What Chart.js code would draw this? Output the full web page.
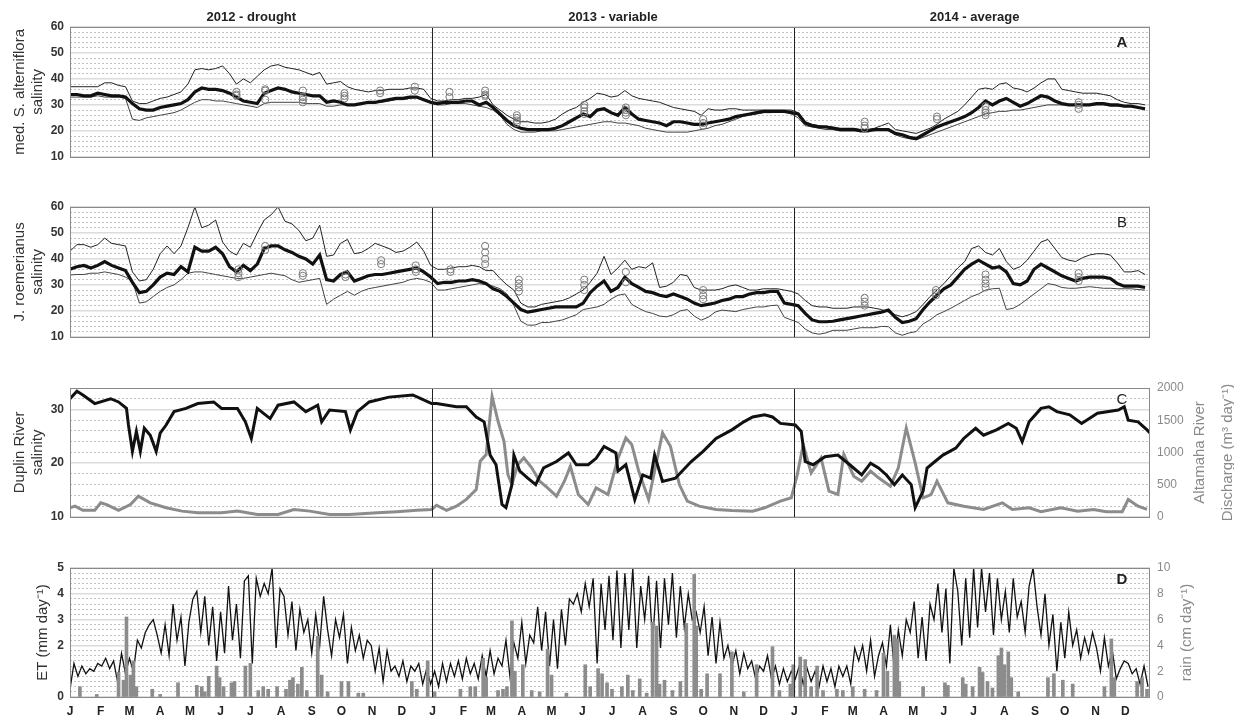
<!DOCTYPE html>
<html>
<head>
<meta charset="utf-8">
<title>Marsh porewater salinity, river discharge and ET, 2012-2014</title>
<script src="https://cdn.jsdelivr.net/npm/chart.js@4.4.1/dist/chart.umd.min.js"></script>
<style>
  body { margin: 0; background: #fff; }
  #wrap { position: relative; width: 1234px; height: 719px; }
  #wrap canvas { position: absolute; left: 0; }
</style>
</head>
<body>
<div id="wrap">
  <canvas id="panelA" width="1234" height="170" style="top:0px"></canvas>
  <canvas id="panelB" width="1234" height="170" style="top:180px"></canvas>
  <canvas id="panelC" width="1234" height="170" style="top:361px"></canvas>
  <canvas id="panelD" width="1234" height="178" style="top:541px"></canvas>
</div>
<script>
// x = day counted from 1 Jan 2012
const monthLetters = ['J','F','M','A','M','J','J','A','S','O','N','D',
                      'J','F','M','A','M','J','J','A','S','O','N','D',
                      'J','F','M','A','M','J','J','A','S','O','N','D'];
const monthStartDays = [0,31,60,91,121,152,182,213,244,274,305,335,
                        366,397,425,456,486,517,547,578,609,639,670,700,
                        731,762,790,821,851,882,912,943,974,1004,1035,1065];
const yearStartDays = [366, 731];
const yearTitles = ['2012 - drought', '2013 - variable', '2014 - average'];
const yearMidDays = [183, 548, 913];

// panels A and B: one value per week
const weekStep = 7;

// A - median S. alterniflora salinity and its envelope
const medA = [
  34,34,33.5,33.5,34.5,34,33.5,33.5,33,30.5, 28.5,28,28,29,29.5,30,30.5,32,35,36.5,
  36,36,35.5,34.5,33,31.5,31,30.5,34.5,35.5, 36.5,36,35,34.5,34,33.5,33.5,31,31.5,31,
  30,30,30.5,31,31,31.5,32,32.5,32.5,33, 33,32,31,
  30.5,31,31,31,31.5,31.5,30,31,29,26.5, 24,22,21,20.5,20.5,20.5,20.5,21,22,23.5,
  25,26.5,25.5,28,28.5,27,26,29,26.5,24.5, 24,23.5,23,22,23.5,23.5,23,22.5,22.5,23,
  23.5,24,24.5,25.5,26,26.5,27,27.5,27.5,27.5, 27.5,27,
  26.5,23,22,21.5,21.5,21,20.5,20.5,20.5,20, 20,20.5,20.5,20.5,19,18.5,17.5,17,18.5,20,
  21.5,22.5,23.5,24.5,25.5,27,29,31.5,30,31.5, 32.5,31,29.5,30.5,32,33.5,33,31.5,30.5,30,
  30,30,30,30.5,30.5,30,30,29.5,29.5,29, 28.5
];
const upA = [
  37,37,37,37,37,38.5,38.5,37.5,37,31.5, 30.5,30.5,31.5,32.5,33,34,35,38,43.5,44,
  43.5,44,45,42,38,40,38.5,41,43.5,45, 45.5,44.5,44,43.5,42.5,41.5,42.5,38,38.5,39,
  37,36,35.5,35,35.5,35.5,36,36,36,36.5, 36.5,36,32.5,
  31.5,31.5,32,32,32.5,32.5,33,34,30,28, 26,24.5,23.5,23.5,23,23,23.5,24.5,26.5,28,
  29,31,32.5,34.5,34,33,33.5,35.5,33.5,32.5, 32,31.5,31,30,29,28.5,28,27.5,26,28.5,
  28,28,28.5,28.5,28,28,28,28,28,28, 28,28,
  27,23.5,22.5,22,21.5,21.5,21,21,21,20.5, 20.5,21,22,23,20.5,20,19.5,19,20,21,
  22.5,24.5,26,27.5,30,33,36,36.5,36,38, 38.5,36.5,36,35,36.5,38.5,40,40,36,35.5,
  35,34.5,34.5,34.5,34,33.5,32,31,30.5,30.5, 30
];
const lowA = [
  33,33,33,33,33.5,33,33,33,32.5,24.5, 24,25,25.5,26,26.5,27,28,29.5,31,32,
  32,31.5,31.5,31,30.5,30,29.5,29,30.5,31, 31,31,31,31,30.5,30.5,30.5,29.5,29.5,30,
  30,30,30.5,30.5,31,31,31.5,32,32,32.5, 33,32,30.5,
  30,30,30.5,30.5,30.5,30,29.5,29,28,26, 22.5,20.5,19.5,19.5,19.5,20,20,20,20.5,21,
  21.5,22,22.5,23,23.5,23.5,23,23,22.5,22, 21,20.5,20,19.5,19.5,19.5,19.5,20,20.5,21,
  22,22.5,23.5,24.5,25.5,26,26.5,27,27,27.5, 27.5,26.5,
  25,22,21.5,21,20.5,20.5,20,20,20,20, 20,20,20.5,20,18.5,17.5,17,16.5,17.5,18.5,
  19.5,20.5,21.5,22.5,23.5,24.5,25.5,26.5,27,27.5, 27.5,28,28,28.5,29,29.5,30,30,30,30,
  30,30,30,30,30,29.5,29.5,29.5,29.5,29, 28
];
const obsDaysA = [168,168,168, 197,197,197, 235,235,235,235, 277,277,277, 313,313, 348,348,
  383,383, 419,419,419, 451,451,451,451, 519,519,519,519, 561,561,561,561, 639,639,639,
  802,802,802, 875,875, 924,924,924,924, 1018,1018,1018];
const obsSalA = [35,34,33.5, 36,35.5,32, 35.5,33,32,31, 34.5,33.5,32.5, 35.5,34.5, 37,35.5,
  35,33, 35.5,34,33.5, 26,25,24,23, 30,29,27.5,26.5, 29,28,27,26, 24.5,23,22,
  23.5,22,21, 25.5,24.5, 29.5,28,27,26, 31,30,28.5];

// B - J. roemerianus salinity
const medB = [
  36,37,37.5,36.5,37.5,39,37.5,36.5,35.5,31, 27,27.5,30,33,34.5,34,37,35,44.5,43,
  43,44.5,42,37,35,37.5,35.5,38,44,45, 45,43.5,42.5,41,40,38,41.5,32,31.5,34,
  35,31.5,32.5,33.5,34,34,34.5,35,35.5,36, 36.5,35,33,
  30.5,31,31,31.5,31.5,32,31.5,30.5,28.5,27.5, 25.5,23,20.5,19.5,20,20.5,21,21.5,21.5,21.5,
  21.5,23,27,29.5,31.5,27.5,29,33,30.5,29, 27.5,27,26,25.5,26.5,25.5,24.5,23,22,22.5,
  23,24,24.5,25.5,25.5,26.5,27,27,27.5,27.5, 23,22.5,
  22,19,16.5,15.8,15.8,16,16.5,17,17.5,18, 18.5,19,19.5,20.3,17.5,15.5,16,17,20.5,23.5,
  26,28.5,30,33,36,38,39.5,38,36.5,37, 35,30.5,30,31.5,36,38,36.5,35,33.5,32.5,
  31.5,32.5,33,33,33,32.5,30.5,29.5,29.5,29.5, 29
];
const upB = [
  43,45.5,45.5,44.5,45.5,48,46,45.5,45,35, 31.5,32,36,42,45,42,45,52,60,52,
  53,55,46.5,43,41.5,46,44.5,50,55,57, 60,54.5,53.5,51,47,48,53,41,41.5,46,
  47.5,42,42.5,44,46,45,44,42.5,43,44.5, 46.5,43,37.5,
  36,36,36.5,37,37,37.5,37,35.5,35.5,32.5, 30,28,23,21.5,21.5,22.5,23,23.5,24,25,
  26.5,28,31,34.5,41,34,36.5,39.5,36,37, 36.5,38.5,29,29.5,31,34,33.5,29,28,28,
  28,28.5,29.5,30,29,28,28,28.5,28.5,28.5, 28,27.5,
  26.5,24,22,21.5,21.5,21,21,21,21.5,21.5, 21.5,21,20.5,19.5,18.5,17.7,18.5,19.7,22.5,25.5,
  28,30.5,33.5,36.5,39,44,45,42.5,41.5,44, 39,36,37,39.5,43,46.5,47.5,44,40.5,39.5,
  39,40.5,41.5,42,42,41.5,38.5,35,35,35.5, 34
];
const lowB = [
  33.8,34,34,34.5,34.5,35,34.5,34,33,31.5, 23,23.5,25.5,27.5,29,30,32,34.5,35,35,
  34.5,34,33.5,33,32.5,32.5,33,33.5,34,34.5, 34,33.5,32,31,31.5,32,32.5,22.5,24.5,26,
  27.5,26,27.5,28.5,29,29.5,30,30.5,31,32, 32.5,32,31,
  28,28,28.5,29,29.5,30,30.5,30,29.5,28.5, 26.5,22,16,14.5,14.5,15.5,15.5,16,16.5,17.5,
  18.5,20.5,21,21.5,22.5,24.5,26,26.5,22.5,21, 19.7,19,18,17.7,18.5,20,20.5,18,16.4,17.5,
  19.5,20.3,20,19.7,20.5,21,21.5,21.5,22,22.2, 17.5,16.5,
  15.5,13,11.5,11,11.5,12.5,12.5,12.5,13,13.5, 13.5,13.5,14,13.9,11.5,10.6,11.5,12,15,16.5,
  18.5,19.7,21,22.5,24,25.5,26.5,28,28.5,28.7, 20.5,21,22.5,24.5,26.5,28.5,30.5,30,29,28.7,
  28.7,29,29.3,29,28.7,28.7,28.5,28.5,28.5,28.2, 28
];
const obsDaysB = [170,170,170, 197,197, 235,235, 278,278, 314,314, 349,349,349, 384,384,
  419,419,419,419, 453,453,453,453, 519,519,519, 561,561, 639,639,639, 802,802,802,
  874,874,874, 924,924,924,924, 1018,1018,1018];
const obsSalB = [36,34.5,33, 45,43.5, 34.5,33.5, 34,33, 39.5,38, 37.5,36,35, 36,35,
  45,42.5,40,38, 32,30.5,29,27.5, 32,30,28, 35,31, 28,26,24.5, 25,23.5,22,
  28,27,26, 34,32,30.5,29, 34.5,33,31.5];

// C - Duplin River salinity and Altamaha River discharge
const duplinDays = [0,7,13,25,41,49,57,59,63,67, 71,75,81,87,91,97,105,117,129,145,
  153,169,177,183,189,202,210,226,238,250, 254,262,278,283,290,302,322,346,358,365,
  370,390,400,410,418,424,430,436,440,446, 448,454,462,470,478,491,503,511,523,531,
  539,551,553,561,570,578,586,590,598,611, 627,639,652,668,680,689,701,709,717,732,
  738,742,750,762,775,787,799,808,816,824, 832,840,849,853,861,865,873,881,894,902,
  914,922,935,947,955,961,968,980,988,996, 1009,1021,1037,1058,1064,1068,1078,1087,1090];
const duplinSal = [32,33.4,32.7,31.1,32,31.4,30.2,27.1,22.2,25.9, 22.2,26.5,25.2,22.2,25.6,27.1,29.6,30.2,31.1,31.4,
  30.2,30.2,27.7,24.6,30.2,28.3,30.8,31.4,29.6,30.8, 27.7,29.9,29.6,26.2,29.6,31.4,32.3,32.7,31.7,31.1,
  31.1,30.5,30.5,28.6,27.7,21.5,19.7,12.3,11.7,16, 21.5,18.5,17.2,16,19.1,20.3,21.9,19.7,19.7,20.9,
  23.1,21.9,18.5,19.7,13.2,17.8,17.2,21.5,16.6,17.2, 20.3,22.2,24.6,26.2,27.7,28.6,29,28.6,27.4,27.1,
  25.9,20.3,19.7,21.2,21.5,19.7,17.8,20,19.1,17.8, 16,17.8,16,11.7,14.8,19.1,20.3,21.5,22.8,24.6,
  26.5,25.2,26.2,27.4,26.5,24,27.7,30.2,30.5,29.6, 29,27.4,29.3,29.9,30.5,28,27.7,26.2,25.6];
const dischDays = [0,5,13,25,31,37,49,61,69,81, 97,113,129,153,169,189,210,226,242,262,
  282,310,330,350,365,370,380,390,400,410, 414,420,426,432,438,442,446,452,458,466,
  474,482,491,499,505,513,523,531,543,553, 561,567,574,584,590,598,606,615,623,635,
  652,668,689,701,717,728,734,740,748,758, 766,775,781,791,799,808,816,828,836,844,
  853,861,869,875,886,902,922,941,951,968, 980,1000,1017,1033,1046,1062,1068,1078,1087];
const dischM3 = [140,165,100,100,217,190,100,190,320,217, 140,88,62,62,88,36,36,114,88,36,
  36,62,78,100,114,180,100,165,270,424, 863,966,1870,1483,1173,656,501,811,915,760,
  553,450,320,553,785,346,191,450,346,900, 1225,1121,708,269,708,1302,1095,501,243,165,
  114,98,88,140,243,295,656,1121,682,915, 398,346,966,630,553,708,605,475,760,1380,
  837,295,346,553,217,165,114,217,114,140, 78,140,88,114,78,78,269,165,114];

// D - evapotranspiration (every 4 days) and daily rain events
const etStep = 4;
const etMm = [
  0.3,1.3,0.8,1.2,0.9,1.1,1.0,1.3, 1.2,1.5,1.1,1.4,0.6,1.7,0.9, 1.5,1.0,2.2,1.9,2.5,2.8,3.0,2.4,
  1.7,2.8,1.6,3.6,2.2,3.1,1.2,2.9, 3.8,4.1,2.5,3.9,2.0,3.5,1.4, 3.3,1.7,4.3,2.2,3.6,1.5,4.5,4.7,
  1.3,4.6,3.9,4.4,4.0,5.0,1.9,4.2, 3.9,2.4,3.7,1.8,3.4,2.5,3.0, 1.7,3.2,2.0,3.9,2.6,1.6,3.0,2.3,
  3.2,1.3,2.7,1.8,2.4,1.5,2.2,2.0, 1.0,1.9,0.6,1.8,1.0,1.2,0.8, 1.4,0.6,1.2,1.0,1.3,0.5,1.1,0.5,
  1.0,0.4,1.3,0.6,1.3,0.8,1.4,0.7, 1.5,0.9,1.3,0.7,1.6,0.8,1.8, 0.9,1.5,1.2,2.2,0.8,2.1,1.5,
  2.9,1.3,2.4,2.1,3.5,1.8,3.3,1.2, 3.0,1.1,3.4,2.0,3.8,3.6,4.0,3.3, 4.4,3.5,4.6,1.3,4.4,2.6,4.7,
  2.2,4.9,1.9,4.8,2.6,5.0,1.9,4.3, 3.0,4.7,2.1,4.5,1.9,4.6,2.8,4.8, 2.3,4.3,2.7,4.0,3.0,3.3,2.5,
  3.5,1.6,3.1,1.3,2.9,1.5,2.0,1.2, 1.8,0.9,1.7,1.1,1.4,0.7,1.2, 1.0,1.6,0.7,1.2,0.5,1.1,0.6,1.0,
  0.7,1.2,0.5,1.1,0.6,1.0,0.4,1.2, 0.6,1.1,0.4,1.2,0.8,1.2,0.5, 1.9,1.4,2.0,1.0,2.2,0.8,1.6,2.1,
  1.2,2.8,1.0,2.6,1.6,3.0,2.5, 3.7,1.5,3.1,1.4,3.6,3.0,4.4,2.5, 4.2,1.3,5.0,4.1,2.0,4.6,2.3,
  5.0,2.7,5.0,3.3,4.8,2.4,4.6,3.0, 4.1,2.5,4.6,3.1,3.7,2.5,4.3,5.0, 3.5,2.4,4.0,2.0,3.2,1.0,2.9,
  1.5,3.3,2.0,2.6,1.5,2.3,1.7,2.5, 1.9,1.0,2.3,1.2,1.8,0.7,1.1,1.4, 1.3,0.9,1.1,0.5,1.2,0.4
];
const rainDays = [10,27,49,54,57,61,64,67,83,91, 109,128,133,136,140,148,151,155,163,166,
  177,182,190,195,200,209,218,222,225,230, 234,239,250,254,260,274,281,291,296,345, 350,361,
  368,394,404,409,417,420,432,437,441,446, 449,457,466,474,482,486,501,520,525,533,
  537,542,547,557,563,568,575,582,588,592, 595,600,608,616,622,630,632,637,643,656,
  668,680,693,709,716,727,
  730,737,742,748,754,760,774,780,790,802, 814,821,825,832,835,837,861,883,886,901,
  904,911,918,921,926,931,937,940,943,947, 950,957,987,993,1002,1012,1044,1051,1054,1077, 1082,1087];
const rainCm = [0.8,0.2,1.9,1.3,6.2,1.7,2.8,0.8,0.6,0.2, 1.1,0.9,0.8,0.4,1.6,2.4,1.5,0.8,1.1,1.2,
  2.4,2.6,0.5,0.8,0.6,0.8,0.6,1.3,1.5,1.0, 2.3,0.5,4.7,1.7,0.4,1.2,1.2,0.3,0.3,1.2, 0.6,2.8,
  0.4,0.6,0.8,0.8,3.0,1.5,0.5,0.6,0.8,5.9, 2.0,2.5,0.5,0.4,3.7,1.7,0.3,2.5,0.8,2.2,
  1.8,1.1,0.6,0.8,1.7,0.5,1.4,0.3,5.8,5.5, 1.0,1.3,0.5,1.2,5.7,9.5,5.5,0.6,1.8,1.8,
  3.5,0.4,2.5,3.9,0.5,1.0,
  2.5,3.1,2.9,0.8,2.4,0.5,0.6,0.5,0.8,0.6, 0.5,3.4,2.0,4.8,4.5,1.2,0.8,1.1,0.9,1.5,
  1.0,0.8,2.3,1.9,1.2,0.7,3.2,3.8,2.5,3.5, 1.5,0.4,1.5,1.8,1.3,1.0,0.8,4.5,1.5,1.2, 1.5,0.6];

// labelled ticks
const salTickLabels = [10, 20, 30, 40, 50, 60];
const duplinTickLabels = [10, 20, 30];
const dischTicks = [0, 500, 1000, 1500, 2000];
const etTickLabels = [0, 2, 3, 4, 5];
const rainTicks = [0, 2, 4, 6, 8, 10];

const FONT = '"Liberation Sans", Arial, Helvetica, sans-serif';
Chart.defaults.font.family = FONT;
Chart.defaults.color = '#333';

function weekly(values) {
    return values.map((v, i) => ({ x: i * weekStep, y: v }));
}
function paired(days, values) {
    return days.map((d, i) => ({ x: d, y: values[i] }));
}

// frame, panel letter, year titles and right-hand axis title
const panelDecor = {
    id: 'panelDecor',
    afterDraw(chart, args, opts) {
        const { ctx, chartArea: a } = chart;
        ctx.save();
        ctx.strokeStyle = '#8a8a8a';
        ctx.lineWidth = 1;
        ctx.strokeRect(Math.round(a.left) + 0.5, Math.round(a.top) + 0.5,
                       Math.round(a.width) - 1, Math.round(a.height));

        ctx.fillStyle = '#222';
        ctx.textAlign = 'center';
        ctx.textBaseline = 'middle';
        if (opts.letter) {
            ctx.font = (opts.letterBold ? 'bold ' : '') + '15px ' + FONT;
            ctx.fillText(opts.letter, a.right - 28, a.top + opts.letterDy);
        }
        if (opts.yearTitles) {
            ctx.font = 'bold 13px ' + FONT;
            const xs = chart.scales.x;
            yearTitles.forEach((t, i) => ctx.fillText(t, xs.getPixelForValue(yearMidDays[i]), a.top - 10));
        }
        if (opts.rightTitle) {
            ctx.fillStyle = '#8a8a8a';
            ctx.font = '15px ' + FONT;
            const cy = (a.top + a.bottom) / 2;
            opts.rightTitle.forEach((line, i) => {
                ctx.save();
                ctx.translate(a.right + opts.rightTitleDx[i], cy);
                ctx.rotate(-Math.PI / 2);
                ctx.fillText(line, 0, 0);
                ctx.restore();
            });
        }
        ctx.restore();
    }
};

function xAxis(showLabels, height) {
    return {
        type: 'linear', min: 0, max: 1090, offset: false,
        afterBuildTicks: s => { s.ticks = monthStartDays.map(v => ({ value: v })); },
        afterFit: s => { s.height = height; },
        grid: {
            offset: false, drawTicks: false, lineWidth: 1, z: 1,
            color: c => (c.tick && yearStartDays.includes(c.tick.value)) ? '#222' : 'rgba(0,0,0,0)'
        },
        border: { display: false },
        ticks: {
            display: showLabels, autoSkip: false, maxRotation: 0, padding: 7,
            color: '#222', font: { size: 12, weight: 'bold' },
            callback: (v, i) => monthLetters[i]
        }
    };
}

function leftAxis(min, max, step, labels, title, titlePad) {
    const isMajor = v => labels.some(l => Math.abs(l - v) < 1e-6);
    return {
        min: min, max: max,
        afterBuildTicks: s => {
            const t = [];
            for (let v = min; v <= max + 1e-9; v += step) t.push({ value: Math.round(v * 100) / 100 });
            s.ticks = t;
        },
        afterFit: s => { s.width = 70; },
        grid: {
            drawTicks: false,
            color: c => (c.tick && isMajor(c.tick.value)) ? '#dcdcdc' : '#c2c2c2',
            lineWidth: c => (c.tick && isMajor(c.tick.value)) ? 1.5 : 1
        },
        border: { display: false, dash: c => (c.tick && !isMajor(c.tick.value)) ? [2, 2] : [] },
        ticks: {
            autoSkip: false, padding: 6, color: '#333', font: { size: 12, weight: 'bold' },
            callback: v => isMajor(v) ? String(v) : ''
        },
        title: { display: true, text: title, color: '#333', font: { size: 15 }, padding: { top: titlePad, bottom: 0 } }
    };
}

function rightAxis(max, ticks) {
    return {
        position: 'right', min: 0, max: max,
        afterBuildTicks: s => { s.ticks = ticks.map(v => ({ value: v })); },
        afterFit: s => { s.width = 84; },
        grid: { drawOnChartArea: false, drawTicks: false },
        border: { display: false },
        ticks: { padding: 7, color: '#8a8a8a', font: { size: 12 }, callback: v => String(v) }
    };
}

function baseOptions(scales, padRight, decor) {
    return {
        responsive: false,
        animation: false,
        devicePixelRatio: 1,
        events: [],
        layout: { padding: { left: 0, top: 27, right: padRight, bottom: 0 } },
        elements: { point: { radius: 0 }, line: { tension: 0, fill: false } },
        plugins: { legend: { display: false }, tooltip: { enabled: false }, panelDecor: decor },
        scales: scales
    };
}

function obsSet(days, values) {
    return {
        data: paired(days, values), showLine: false,
        pointRadius: 3.6, pointStyle: 'circle',
        pointBorderColor: '#7a7a7a', pointBackgroundColor: 'rgba(0,0,0,0)', pointBorderWidth: 1
    };
}

function salinityPanel(id, med, up, low, obsDays, obsVals, title, letter, decorExtra) {
    new Chart(document.getElementById(id), {
        type: 'line',
        data: {
            datasets: [
                obsSet(obsDays, obsVals),
                { data: weekly(med), borderColor: '#111', borderWidth: 3.2 },
                { data: weekly(up), borderColor: '#222', borderWidth: 1 },
                { data: weekly(low), borderColor: '#444', borderWidth: 1 }
            ]
        },
        options: baseOptions(
            { x: xAxis(false, 13), y: leftAxis(10, 60, 2, salTickLabels, title, 11) },
            84,
            Object.assign({ letter: letter, letterDy: 16 }, decorExtra)
        ),
        plugins: [panelDecor]
    });
}

salinityPanel('panelA', medA, upA, lowA, obsDaysA, obsSalA,
    ['med. S. alterniflora', 'salinity'], 'A', { letterBold: true, yearTitles: true });
salinityPanel('panelB', medB, upB, lowB, obsDaysB, obsSalB,
    ['J. roemerianus', 'salinity'], 'B', {});

new Chart(document.getElementById('panelC'), {
    type: 'line',
    data: {
        datasets: [
            { data: paired(duplinDays, duplinSal), borderColor: '#111', borderWidth: 3, yAxisID: 'y' },
            { data: paired(dischDays, dischM3), borderColor: '#8c8c8c', borderWidth: 3, yAxisID: 'y2' }
        ]
    },
    options: baseOptions(
        {
            x: xAxis(false, 13),
            y: leftAxis(10, 34, 2, duplinTickLabels, ['Duplin River', 'salinity'], 11),
            y2: rightAxis(2000, dischTicks)
        },
        0,
        { letter: 'C', letterDy: 12, rightTitle: ['Altamaha River', 'Discharge (m³ day⁻¹)'], rightTitleDx: [50, 78] }
    ),
    plugins: [panelDecor]
});

new Chart(document.getElementById('panelD'), {
    type: 'line',
    data: {
        datasets: [
            { type: 'bar', data: paired(rainDays, rainCm), yAxisID: 'y2',
              backgroundColor: '#8c8c8c', barThickness: 3, grouped: false },
            { data: etMm.map((v, i) => ({ x: i * etStep, y: v })), borderColor: '#111', borderWidth: 1.3, yAxisID: 'y' }
        ]
    },
    options: baseOptions(
        {
            x: xAxis(true, 22),
            y: leftAxis(0, 5, 0.2, etTickLabels, 'ET (mm day⁻¹)', 34),
            y2: rightAxis(10, rainTicks)
        },
        0,
        { letter: 'D', letterBold: true, letterDy: 12, rightTitle: ['rain (cm day⁻¹)'], rightTitleDx: [37] }
    ),
    plugins: [panelDecor]
});
</script>
</body>
</html>
